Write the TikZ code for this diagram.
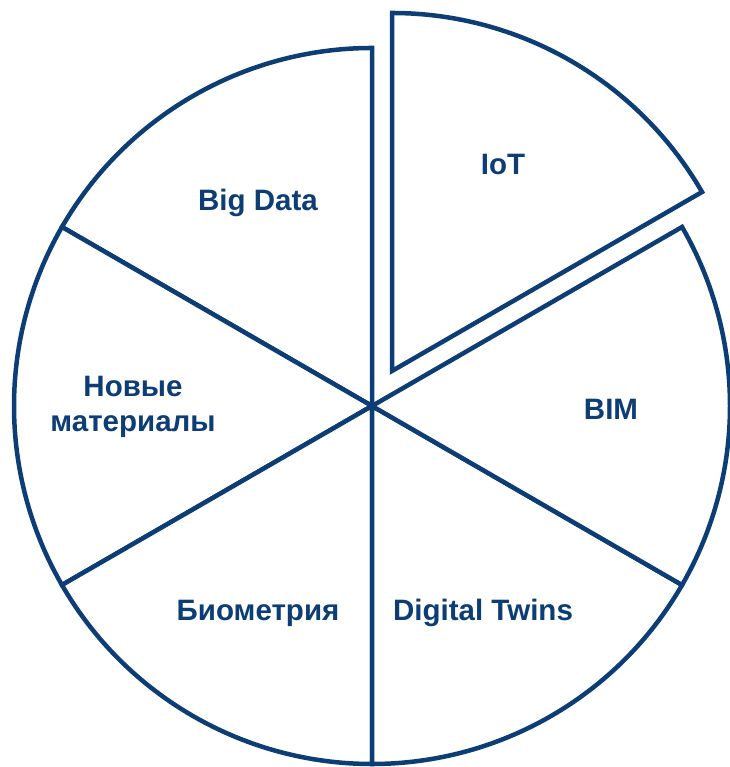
\documentclass[tikz,border=0pt]{standalone}
\usepackage{fontspec}
\setmainfont{Liberation Sans}
\definecolor{navy}{RGB}{12,61,116}
\begin{document}
\begin{tikzpicture}[x=1pt,y=1pt,
  slice/.style={draw=navy,line width=4.5pt,fill=white},
  lbl/.style={text=navy,font=\bfseries\fontsize{29.5}{35}\selectfont,align=center,inner sep=0pt}]
\useasboundingbox (0,0) rectangle (729,767);
\coordinate (C) at (372,361);
\coordinate (V) at (392,396);
\def\R{358}
% slices
\foreach \a in {90,150,210,270,330}{
  \draw[slice] (C) -- ++(\a:\R) arc[start angle=\a,end angle=\a+60,radius=\R] -- cycle;
}
\draw[slice] (V) -- ++(30:\R) arc[start angle=30,end angle=90,radius=\R] -- cycle;
% labels
\node[lbl] (iot) at (503,602) {IoT};
\node[lbl] (bigdata) at (258,564) {Big Data};
\node[lbl] (bim) at (611,358) {BIM};
\node[lbl] (mat) at (133,360) {Новые\\материалы};
\node[lbl] (bio) at (258,154) {Биометрия};
\node[lbl] (twins) at (483,154) {Digital Twins};
\end{tikzpicture}
\end{document}
